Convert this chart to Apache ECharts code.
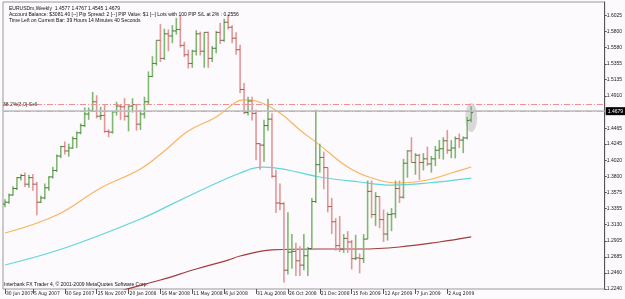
<!DOCTYPE html>
<html>
<head>
<meta charset="utf-8">
<script src="https://cdn.jsdelivr.net/npm/echarts@6/dist/echarts.min.js"></script>
<style>
  html, body { margin: 0; padding: 0; background: #fcfafc; }
  #chart { width: 625px; height: 299px; }
</style>
</head>
<body>
<div id="chart"></div>
<script>
// EURUSDm weekly bars, first bar = week of 17 Jun 2007, last = 13 Sep 2009 (still open)
var open = [
  1.3415, 1.3440, 1.3540, 1.3630, 1.3780, 1.3810, 1.3690, 1.3780, 1.3690, 1.3440,
  1.3500, 1.3640, 1.3790, 1.3880, 1.4080, 1.4210, 1.4150, 1.4190, 1.4320, 1.4400,
  1.4500, 1.4660, 1.4710, 1.4830, 1.4630, 1.4640, 1.4420, 1.4410, 1.4690, 1.4770,
  1.4760, 1.4630, 1.4770, 1.4790, 1.4520, 1.4660, 1.4830, 1.5180, 1.5360, 1.5680,
  1.5430, 1.5770, 1.5740, 1.5810, 1.5830, 1.5610, 1.5480, 1.5360, 1.5530, 1.5770,
  1.5530, 1.5790, 1.5430, 1.5570, 1.5790, 1.5680, 1.5930, 1.5860, 1.5710, 1.5550,
  1.5000, 1.4680, 1.4840, 1.4670, 1.4250, 1.4230, 1.4500, 1.4590, 1.3800, 1.3430,
  1.3420, 1.2500, 1.2750, 1.2760, 1.2630, 1.2570, 1.2700, 1.2800, 1.3450, 1.3960,
  1.4060, 1.3920, 1.3380, 1.3170, 1.2840, 1.2790, 1.2940, 1.2890, 1.2660, 1.2670,
  1.2660, 1.2930, 1.3590, 1.3270, 1.3520, 1.3200, 1.3000, 1.3270, 1.3280, 1.3630,
  1.3510, 1.3980, 1.4150, 1.3990, 1.4090, 1.3990, 1.4040, 1.3970, 1.4040, 1.4160,
  1.4180, 1.4290, 1.4160, 1.4190, 1.4320, 1.4300, 1.4330, 1.4577
];
var high = [
  1.3480, 1.3560, 1.3660, 1.3790, 1.3830, 1.3850, 1.3820, 1.3830, 1.3720, 1.3530,
  1.3700, 1.3800, 1.3930, 1.4100, 1.4220, 1.4280, 1.4250, 1.4350, 1.4420, 1.4530,
  1.4750, 1.4750, 1.4966, 1.4920, 1.4760, 1.4800, 1.4450, 1.4700, 1.4830, 1.4800,
  1.4880, 1.4780, 1.4880, 1.4800, 1.4720, 1.4900, 1.5250, 1.5460, 1.5680, 1.5905,
  1.5840, 1.5830, 1.5890, 1.5990, 1.6019, 1.5660, 1.5550, 1.5550, 1.5820, 1.5800,
  1.5790, 1.5800, 1.5600, 1.5810, 1.5920, 1.5980, 1.6038, 1.5890, 1.5790, 1.5620,
  1.5090, 1.4900, 1.4900, 1.4720, 1.4260, 1.4580, 1.4870, 1.4670, 1.3890, 1.3700,
  1.3440, 1.3300, 1.3000, 1.2880, 1.2830, 1.3000, 1.2820, 1.3500, 1.4720, 1.4250,
  1.4140, 1.3920, 1.3500, 1.3220, 1.3250, 1.3000, 1.3040, 1.2920, 1.2990, 1.2730,
  1.3000, 1.3740, 1.3740, 1.3580, 1.3520, 1.3340, 1.3300, 1.3360, 1.3740, 1.3740,
  1.4040, 1.4160, 1.4340, 1.4120, 1.4110, 1.4120, 1.4210, 1.4080, 1.4220, 1.4300,
  1.4340, 1.4440, 1.4300, 1.4350, 1.4390, 1.4350, 1.4620, 1.4767
];
var low = [
  1.3370, 1.3420, 1.3530, 1.3610, 1.3740, 1.3650, 1.3640, 1.3600, 1.3260, 1.3430,
  1.3480, 1.3600, 1.3770, 1.3860, 1.4050, 1.4100, 1.4070, 1.4180, 1.4190, 1.4380,
  1.4480, 1.4580, 1.4700, 1.4600, 1.4580, 1.4400, 1.4340, 1.4390, 1.4640, 1.4580,
  1.4570, 1.4420, 1.4680, 1.4430, 1.4440, 1.4600, 1.4800, 1.5170, 1.5330, 1.5380,
  1.5410, 1.5530, 1.5640, 1.5760, 1.5580, 1.5450, 1.5290, 1.5300, 1.5470, 1.5470,
  1.5300, 1.5300, 1.5380, 1.5500, 1.5630, 1.5660, 1.5830, 1.5640, 1.5480, 1.4950,
  1.4660, 1.4640, 1.4570, 1.4020, 1.3890, 1.4000, 1.4430, 1.3780, 1.3290, 1.3330,
  1.2330, 1.2440, 1.2520, 1.2420, 1.2420, 1.2500, 1.2420, 1.2800, 1.3430, 1.3850,
  1.3620, 1.3300, 1.3000, 1.2770, 1.2750, 1.2740, 1.2740, 1.2510, 1.2640, 1.2457,
  1.2600, 1.2930, 1.3220, 1.3110, 1.3080, 1.2890, 1.2910, 1.3040, 1.3220, 1.3430,
  1.3490, 1.3780, 1.3990, 1.3820, 1.3750, 1.3880, 1.3940, 1.3850, 1.3940, 1.4040,
  1.4030, 1.4110, 1.4050, 1.4045, 1.4190, 1.4120, 1.4310, 1.4545
];
var close = [
  1.3440, 1.3540, 1.3630, 1.3780, 1.3810, 1.3690, 1.3780, 1.3690, 1.3440, 1.3500,
  1.3640, 1.3790, 1.3880, 1.4080, 1.4210, 1.4150, 1.4190, 1.4320, 1.4400, 1.4500,
  1.4660, 1.4710, 1.4830, 1.4630, 1.4640, 1.4420, 1.4410, 1.4690, 1.4770, 1.4760,
  1.4630, 1.4770, 1.4790, 1.4520, 1.4660, 1.4830, 1.5180, 1.5360, 1.5680, 1.5430,
  1.5770, 1.5740, 1.5810, 1.5830, 1.5610, 1.5480, 1.5360, 1.5530, 1.5770, 1.5530,
  1.5790, 1.5430, 1.5570, 1.5790, 1.5680, 1.5930, 1.5860, 1.5710, 1.5550, 1.5000,
  1.4680, 1.4840, 1.4670, 1.4250, 1.4230, 1.4500, 1.4590, 1.3800, 1.3430, 1.3420,
  1.2500, 1.2750, 1.2760, 1.2630, 1.2570, 1.2700, 1.2800, 1.3450, 1.3960, 1.4060,
  1.3920, 1.3380, 1.3170, 1.2840, 1.2790, 1.2940, 1.2890, 1.2660, 1.2670, 1.2660,
  1.2930, 1.3590, 1.3270, 1.3520, 1.3200, 1.3000, 1.3270, 1.3280, 1.3630, 1.3510,
  1.3980, 1.4150, 1.3990, 1.4090, 1.3990, 1.4040, 1.3970, 1.4040, 1.4160, 1.4180,
  1.4290, 1.4160, 1.4190, 1.4320, 1.4300, 1.4330, 1.4570, 1.4679
];

// moving averages: [bar index, price]
var maOrange = [
  [0, 1.3014], [13, 1.3263], [24, 1.3637], [34, 1.3900], [40, 1.4150], [46, 1.4425],
  [53, 1.4620], [58, 1.4827], [60, 1.4855], [63, 1.4841], [69, 1.4674], [74, 1.4440],
  [79, 1.4230], [86, 1.3927], [92, 1.3775], [99, 1.3706], [106, 1.3748], [112, 1.3844],
  [117, 1.3927]
];
var maCyan = [
  [0, 1.2572], [15, 1.2807], [34, 1.3208], [44, 1.3470], [59, 1.3844], [65, 1.3927],
  [71, 1.3886], [79, 1.3789], [89, 1.3720], [97, 1.3678], [106, 1.3706], [117, 1.3775]
];
var maRed = [
  [20, 1.2050], [30, 1.2228], [39, 1.2364], [48, 1.2516], [56, 1.2640], [59, 1.2696],
  [67, 1.2780], [79, 1.2793], [89, 1.2793], [99, 1.2821], [109, 1.2890], [117, 1.2960]
];

// horizontal levels
var sellLevel = 1.4795;
var buyLevel = 1.4730;
var lastPrice = 1.4679;

// axis labels
var priceTicks = [1.6025, 1.5800, 1.5580, 1.5355, 1.5135, 1.4910, 1.4465, 1.4245, 1.4020,
  1.3800, 1.3575, 1.3355, 1.3130, 1.2905, 1.2685, 1.2460, 1.2240];
var dateTickIdx = [0, 7, 15, 23, 31, 39, 47, 55, 63, 71, 79, 87, 95, 103, 111];
var dateTickText = ['30 Jun 2007', '5 Aug 2007', '30 Sep 2007', '25 Nov 2007', '20 Jan 2008',
  '16 Mar 2008', '11 May 2008', '6 Jul 2008', '31 Aug 2008', '26 Oct 2008', '21 Dec 2008',
  '15 Feb 2009', '12 Apr 2009', '7 Jun 2009', '2 Aug 2009'];

// week slots incl. the empty space right of the last bar
var weeks = [];
var d0 = new Date(2007, 5, 17);
for (var k = 0; k < 151; k++) {
  var d = new Date(d0.getTime() + k * 7 * 86400000);
  weeks.push(d.getFullYear() + '-' + (d.getMonth() + 1) + '-' + d.getDate());
}

var ohlc = open.map(function (o, i) { return [i, o, high[i], low[i], close[i]]; });

var FONT = 'Liberation Sans';
var NARROW = '"Liberation Sans Narrow", "DejaVu Sans Condensed", "Liberation Sans"';
var chart = echarts.init(document.getElementById('chart'));

function isDateTick(i) { return dateTickIdx.indexOf(i) >= 0; }

chart.setOption({
  animation: false,
  backgroundColor: '#fcfafc',
  textStyle: { fontFamily: FONT },
  title: {
    text: 'EURUSDm,Weekly  1.4577 1.4767 1.4545 1.4679\n' +
      'Account Balance: $3081.40 [--] Pip Spread: 2 [--] PIP Value: $1 [--] Lots with 100 PIP S/L at 2% : 0.2556\n' +
      'Time Left on Current Bar: 39 Hours 14 Minutes 40 Seconds',
    left: 4,
    top: 1,
    textStyle: { fontSize: 5, fontWeight: 'normal', color: '#111', lineHeight: 6, fontFamily: FONT }
  },
  graphic: [{
    type: 'text',
    left: 4,
    top: 282,
    style: { text: 'Interbank FX Trader 4, \u00a9 2001-2009 MetaQuotes Software Corp.', fontSize: 5, fill: '#111', font: '5px ' + FONT }
  }],
  grid: {
    left: 3, right: 19, top: 2, bottom: 10,
    show: true, borderColor: '#9a9a9a', borderWidth: 1, backgroundColor: '#fcfafc'
  },
  xAxis: {
    type: 'category',
    data: weeks,
    boundaryGap: true,
    axisLine: { show: false },
    axisTick: {
      show: true, alignWithLabel: true, length: 5,
      interval: function (i) { return isDateTick(i); },
      lineStyle: { color: '#555' }
    },
    axisLabel: {
      interval: function (i) { return isDateTick(i); },
      formatter: function (v, i) { return dateTickText[dateTickIdx.indexOf(i)] || ''; },
      fontSize: 5, color: '#222', align: 'left', margin: 2, padding: [0, 0, 0, 1],
      fontFamily: NARROW
    },
    splitLine: { show: false }
  },
  yAxis: {
    type: 'value',
    position: 'right',
    min: 1.2240,
    max: 1.6210,
    splitLine: { show: false },
    axisLine: { show: true, lineStyle: { color: '#555' } },
    axisTick: { show: true, length: 2, customValues: priceTicks, lineStyle: { color: '#555' } },
    axisLabel: {
      customValues: priceTicks,
      formatter: function (v) { return v.toFixed(4); },
      fontSize: 5, color: '#222', margin: 2
    }
  },
  series: [
    {
      type: 'scatter',
      name: 'highlight',
      data: [[117, 1.4612]],
      symbol: 'circle',
      symbolSize: [12, 29],
      itemStyle: { color: 'rgba(175,175,175,0.55)' },
      silent: true,
      z: 1
    },
    {
      type: 'line', name: 'MA slow', data: maRed, showSymbol: false, smooth: 0.4,
      lineStyle: { color: '#a23c3c', width: 1.2 }, silent: true, z: 2
    },
    {
      type: 'line', name: 'MA mid', data: maCyan, showSymbol: false, smooth: 0.4,
      lineStyle: { color: '#5fd6da', width: 1.2 }, silent: true, z: 2
    },
    {
      type: 'line', name: 'MA fast', data: maOrange, showSymbol: false, smooth: 0.4,
      lineStyle: { color: '#fbb45c', width: 1.2 }, silent: true, z: 2,
      markLine: {
        silent: true,
        symbol: ['none', 'none'],
        data: [
          {
            yAxis: sellLevel,
            lineStyle: { color: '#ee9090', width: 1, type: [6, 2, 1, 2] },
            label: { show: true, position: 'insideStartTop', distance: [0, -3], formatter: '38.2%(3,0) Sell', fontSize: 5, color: '#333' }
          },
          {
            yAxis: buyLevel,
            lineStyle: { color: '#7cc67c', width: 1, type: [6, 2, 1, 2] },
            label: { show: false }
          },
          {
            yAxis: lastPrice,
            lineStyle: { color: '#bcbcbc', width: 1.5, type: 'solid' },
            label: {
              show: true, position: 'end', distance: 1, formatter: lastPrice.toFixed(4),
              fontSize: 5, color: '#fff', backgroundColor: '#000', padding: [2, 2, 1, 2]
            }
          }
        ]
      }
    },
    {
      type: 'custom',
      name: 'EURUSDm',
      data: ohlc,
      encode: { x: 0, y: [1, 2, 3, 4] },
      z: 3,
      renderItem: function (params, api) {
        var x = api.value(0);
        var pO = api.coord([x, api.value(1)]);
        var pH = api.coord([x, api.value(2)]);
        var pL = api.coord([x, api.value(3)]);
        var pC = api.coord([x, api.value(4)]);
        var up = api.value(4) >= api.value(1);
        var body = up ? '#80b872' : '#e39797';
        var tick = up ? '#3f7434' : '#a95050';
        return {
          type: 'group',
          children: [
            { type: 'line', shape: { x1: pH[0], y1: pH[1], x2: pL[0], y2: pL[1] }, style: { stroke: body, lineWidth: 1.6 } },
            { type: 'line', shape: { x1: pO[0] - 2, y1: pO[1], x2: pO[0], y2: pO[1] }, style: { stroke: tick, lineWidth: 1 } },
            { type: 'line', shape: { x1: pC[0], y1: pC[1], x2: pC[0] + 2, y2: pC[1] }, style: { stroke: tick, lineWidth: 1 } }
          ]
        };
      }
    }
  ]
});
</script>
</body>
</html>
